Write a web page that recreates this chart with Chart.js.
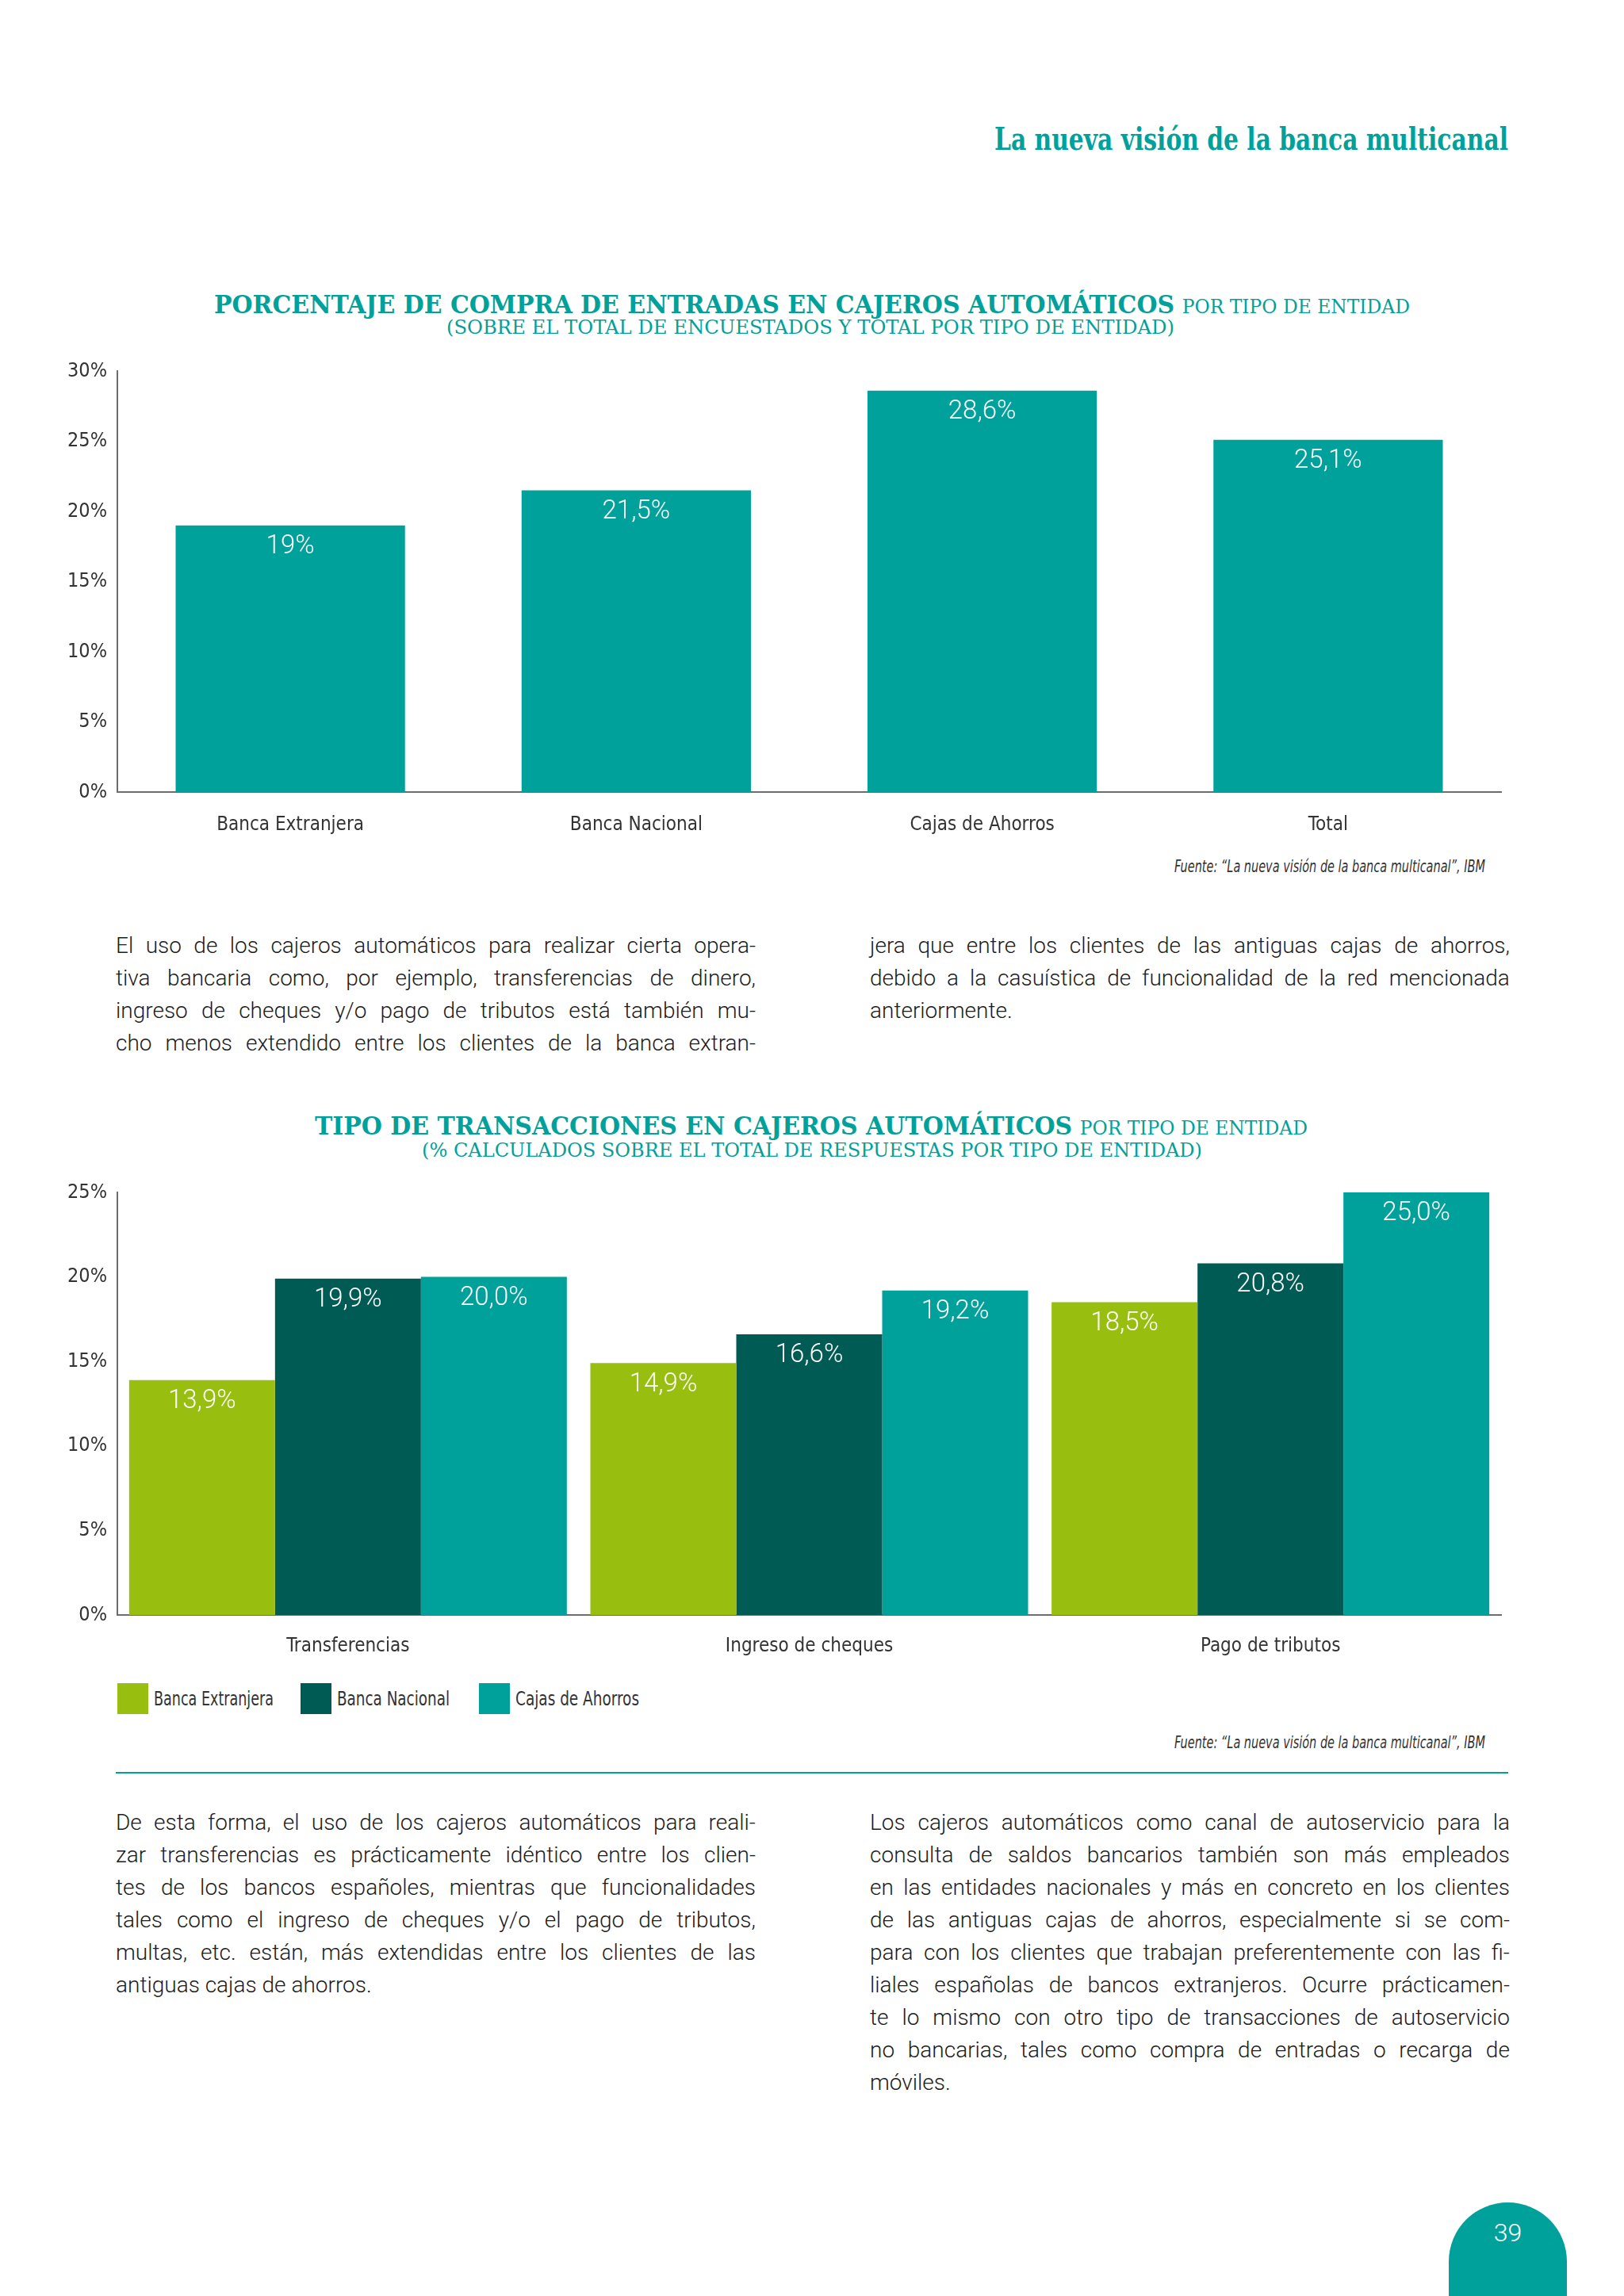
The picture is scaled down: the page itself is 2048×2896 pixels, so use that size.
<!DOCTYPE html>
<html lang="es">
<head>
<meta charset="utf-8">
<title>Cajeros automáticos</title>
<script src="https://cdn.jsdelivr.net/npm/chart.js@4.4.1/dist/chart.umd.min.js"></script>
<style>
  html, body { margin: 0; padding: 0; background: #fff; }
  body { width: 2048px; height: 2896px; position: relative; overflow: hidden; }
  .abs { position: absolute; }
  .slab { font-family: "DejaVu Serif Condensed", "DejaVu Serif", serif; color: #00a19a; white-space: nowrap; transform-origin: left center; }
  .slab b { font-weight: bold; }
  .slab span { font-weight: normal; }
  .body { font-family: Roboto, "Liberation Sans", sans-serif; font-weight: 300; font-size: 28px; color: #1c1c1c; width: 807px; }
  .ln { height: 41px; line-height: 41px; display: flex; justify-content: space-between; white-space: nowrap; }
  .ln.last { display: block; }
  .cond { font-family: "Liberation Sans Narrow", "DejaVu Sans Condensed", "Roboto Condensed", sans-serif; color: #333; }
  .fuente { font-style: italic; font-size: 21px; right: 175px; white-space: nowrap; transform-origin: right center; }
  .legend { left: 148px; top: 2123px; height: 39px; width: 800px; display: flex; align-items: center; font-size: 25px; white-space: nowrap; }
  .legend div { display: flex; align-items: center; flex: none; }
  .legend i { display: inline-block; width: 39px; height: 39px; margin-right: 7px; flex: none; }
  .legend span { display: inline-block; transform-origin: left center; }
  canvas { position: absolute; left: 0; }
</style>
</head>
<body>

<div class="abs slab fit" data-w="648" style="left:1254px; top:152px; font-size:40px; line-height:46px;"><b>La nueva visión de la banca multicanal</b></div>

<div class="abs slab fit" data-w="1508" style="left:270px; top:365px; font-size:32px; line-height:38px;"><b>PORCENTAJE DE COMPRA DE ENTRADAS EN CAJEROS AUTOMÁTICOS</b> <span style="font-size:25px">POR TIPO DE ENTIDAD</span></div>
<div class="abs slab fit" data-w="918" style="left:563px; top:399px; font-size:24px; line-height:28px;"><span>(SOBRE EL TOTAL DE ENCUESTADOS Y TOTAL POR TIPO DE ENTIDAD)</span></div>

<canvas id="chartCompra" width="2048" height="620" style="top:440px"></canvas>
<div class="abs cond fuente fit" data-w="392" style="top:1081px">Fuente: “La nueva visión de la banca multicanal”, IBM</div>

<div class="abs body" id="p1a" style="left:146px; top:1172px"></div>
<div class="abs body" id="p1b" style="left:1097px; top:1172px"></div>

<div class="abs slab fit" data-w="1252" style="left:397px; top:1401px; font-size:32px; line-height:38px;"><b>TIPO DE TRANSACCIONES EN CAJEROS AUTOMÁTICOS</b> <span style="font-size:25px">POR TIPO DE ENTIDAD</span></div>
<div class="abs slab fit" data-w="984" style="left:532px; top:1437px; font-size:24px; line-height:28px;"><span>(% CALCULADOS SOBRE EL TOTAL DE RESPUESTAS POR TIPO DE ENTIDAD)</span></div>

<canvas id="chartTransacciones" width="2048" height="622" style="top:1476px"></canvas>
<div class="abs cond legend" id="legend"></div>
<div class="abs cond fuente fit" data-w="392" style="top:2186px">Fuente: “La nueva visión de la banca multicanal”, IBM</div>

<div class="abs" style="left:146px; top:2235px; width:1756px; height:2px; background:#00a19a"></div>

<div class="abs body" id="p2a" style="left:146px; top:2278px"></div>
<div class="abs body" id="p2b" style="left:1097px; top:2278px"></div>

<div class="abs" style="left:1827px; top:2778px; width:149px; height:130px; background:#00a19b; border-radius:75px 75px 0 0;"></div>
<div class="abs" style="left:1827px; top:2798px; width:149px; text-align:center; color:#fff; font:300 32px Roboto, sans-serif; line-height:36px;">39</div>

<script>
const teal = '#00a19b';
const darkTeal = '#005b55';
const lime = '#98bf10';
const condensed = '"Liberation Sans Narrow", "DejaVu Sans Condensed", "Roboto Condensed", sans-serif';

// Porcentaje de compra de entradas
const entidades = ['Banca Extranjera', 'Banca Nacional', 'Cajas de Ahorros', 'Total'];
const compraEntradas = [19, 21.5, 28.6, 25.1];
const maxCompra = 30;

// Tipo de transacciones
const transacciones = ['Transferencias', 'Ingreso de cheques', 'Pago de tributos'];
const seriesNombres = ['Banca Extranjera', 'Banca Nacional', 'Cajas de Ahorros'];
const seriesColores = [lime, darkTeal, teal];
const bancaExtranjera = [13.9, 14.9, 18.5];
const bancaNacional = [19.9, 16.6, 20.8];
const cajasAhorros = [20.0, 19.2, 25.0];
const maxTransacciones = 25;
const pasoEje = 5;

// texto de la página, línea a línea
const p1a = [
  'El uso de los cajeros automáticos para realizar cierta opera-',
  'tiva bancaria como, por ejemplo, transferencias de dinero,',
  'ingreso de cheques y/o pago de tributos está también mu-',
  'cho menos extendido entre los clientes de la banca extran-'
];
const p1b = [
  'jera que entre los clientes de las antiguas cajas de ahorros,',
  'debido a la casuística de funcionalidad de la red mencionada',
  'anteriormente.'
];
const p2a = [
  'De esta forma, el uso de los cajeros automáticos para reali-',
  'zar transferencias es prácticamente idéntico entre los clien-',
  'tes de los bancos españoles, mientras que funcionalidades',
  'tales como el ingreso de cheques y/o el pago de tributos,',
  'multas, etc. están, más extendidas entre los clientes de las',
  'antiguas cajas de ahorros.'
];
const p2b = [
  'Los cajeros automáticos como canal de autoservicio para la',
  'consulta de saldos bancarios también son más empleados',
  'en las entidades nacionales y más en concreto en los clientes',
  'de las antiguas cajas de ahorros, especialmente si se com-',
  'para con los clientes que trabajan preferentemente con las fi-',
  'liales españolas de bancos extranjeros. Ocurre prácticamen-',
  'te lo mismo con otro tipo de transacciones de autoservicio',
  'no bancarias, tales como compra de entradas o recarga de',
  'móviles.'
];

function fillParagraph(id, lines, endsParagraph) {
  const box = document.getElementById(id);
  lines.forEach((line, i) => {
    const div = document.createElement('div');
    div.className = 'ln';
    if (endsParagraph && i === lines.length - 1) {
      div.className += ' last';
      div.textContent = line;
    } else {
      line.split(' ').forEach(w => {
        const s = document.createElement('span');
        s.textContent = w;
        div.appendChild(s);
      });
    }
    box.appendChild(div);
  });
}
fillParagraph('p1a', p1a, false);
fillParagraph('p1b', p1b, true);
fillParagraph('p2a', p2a, true);
fillParagraph('p2b', p2b, true);

// leyenda del segundo grafico (posiciones fijas como en el original)
const legend = document.getElementById('legend');
const legendAncho = [231, 225, 240];
const legendTexto = [151, 142, 156];
seriesNombres.forEach((name, i) => {
  legend.insertAdjacentHTML('beforeend',
    '<div style="width:' + legendAncho[i] + 'px"><i style="background:' + seriesColores[i] + '"></i>' +
    '<span class="fit" data-w="' + legendTexto[i] + '">' + name + '</span></div>');
});

// ajustar titulos, leyenda y fuentes al ancho del original
document.querySelectorAll('.fit').forEach(el => {
  const w = el.getBoundingClientRect().width;
  el.style.transform = 'scaleX(' + (el.dataset.w / w) + ')';
});

const valueLabels = {
  id: 'valueLabels',
  afterDatasetsDraw(chart, args, opts) {
    const ctx = chart.ctx;
    ctx.save();
    ctx.fillStyle = '#fff';
    ctx.font = '300 33px Roboto, "Liberation Sans", sans-serif';
    ctx.textAlign = 'center';
    ctx.textBaseline = 'middle';
    chart.data.datasets.forEach((ds, i) => {
      chart.getDatasetMeta(i).data.forEach((bar, j) => {
        const v = ds.data[j];
        const txt = (opts.fixed ? v.toFixed(1) : String(v)).replace('.', ',') + '%';
        ctx.fillText(txt, bar.x, bar.y + 27);
      });
    });
    ctx.restore();
  }
};

function axes(max, xPad) {
  return {
    x: {
      z: 1,
      grid: { display: false, drawTicks: false },
      border: { color: '#6d6d6d', width: 2 },
      ticks: { color: '#333', font: { family: condensed, size: 24 }, padding: xPad },
      afterFit(s) { s.height = 61; }
    },
    y: {
      min: 0,
      max: max,
      grid: { display: false, drawTicks: false },
      border: { color: '#6d6d6d', width: 2 },
      ticks: { stepSize: pasoEje, color: '#333', font: { family: condensed, size: 25 }, padding: 13, callback: v => v + '%' },
      afterFit(s) { s.width = 148; }
    }
  };
}

new Chart(document.getElementById('chartCompra'), {
  type: 'bar',
  data: {
    labels: entidades,
    datasets: [{
      label: 'Compra de entradas',
      data: compraEntradas,
      backgroundColor: teal,
      borderWidth: 0,
      barPercentage: 0.663,
      categoryPercentage: 1
    }]
  },
  options: {
    responsive: false,
    animation: false,
    devicePixelRatio: 1,
    layout: { padding: { top: 5, right: 155, left: 0, bottom: 0 } },
    plugins: {
      legend: { display: false },
      tooltip: { enabled: false },
      valueLabels: { fixed: false }
    },
    scales: axes(maxCompra, 27)
  },
  plugins: [valueLabels]
});

new Chart(document.getElementById('chartTransacciones'), {
  type: 'bar',
  data: {
    labels: transacciones,
    datasets: [
      { label: seriesNombres[0], data: bancaExtranjera, backgroundColor: seriesColores[0] },
      { label: seriesNombres[1], data: bancaNacional, backgroundColor: seriesColores[1] },
      { label: seriesNombres[2], data: cajasAhorros, backgroundColor: seriesColores[2] }
    ]
  },
  options: {
    responsive: false,
    animation: false,
    devicePixelRatio: 1,
    datasets: { bar: { borderWidth: 0, barPercentage: 1, categoryPercentage: 0.949 } },
    layout: { padding: { top: 10, right: 155, left: 0, bottom: 0 } },
    plugins: {
      legend: { display: false },
      tooltip: { enabled: false },
      valueLabels: { fixed: true }
    },
    scales: axes(maxTransacciones, 25)
  },
  plugins: [valueLabels]
});
</script>
</body>
</html>
